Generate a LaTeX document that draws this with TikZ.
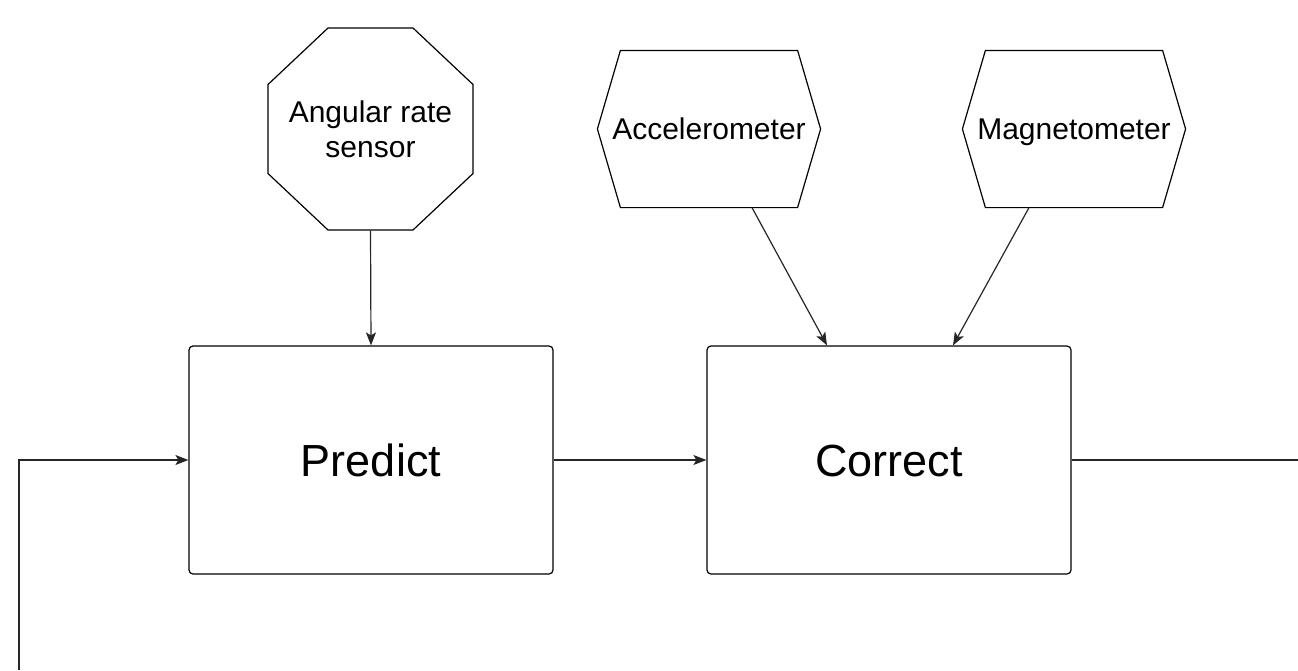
\documentclass[tikz,border=0pt]{standalone}
\usepackage{fontspec}
\setmainfont{Liberation Sans}
\usetikzlibrary{arrows.meta,calc}
\begin{document}
\begin{tikzpicture}[x=1pt,y=-1pt,
  line width=1.2pt,
  conn/.style={draw=black!85,line width=1.2pt},
  arr/.style={conn,-{Stealth[length=13pt,width=10pt,inset=3pt]}},
  octbox/.style={draw=none,minimum width=205pt,minimum height=202pt,inner sep=0pt,
    align=center,font=\fontsize{30}{35}\selectfont},
  hexbox/.style={draw=none,minimum width=222pt,minimum height=156pt,inner sep=0pt,
    text height=21.5pt,text depth=0pt,font=\fontsize{30}{35}\selectfont},
  procbox/.style={draw,rounded corners=4pt,minimum width=364pt,minimum height=228pt,
    inner sep=0pt,text height=32pt,text depth=0pt,font=\fontsize{45}{50}\selectfont}]
\useasboundingbox (0,0) rectangle (1298,670);

\node[octbox] (ang) at (370.5,129) {Angular rate\\sensor};
\draw ($(ang.center)+(-42.5,-101)$) -- ($(ang.center)+(42.5,-101)$)
  -- ($(ang.center)+(102.5,-44.5)$) -- ($(ang.center)+(102.5,44.5)$)
  -- ($(ang.center)+(42.5,101)$) -- ($(ang.center)+(-42.5,101)$)
  -- ($(ang.center)+(-102.5,44.5)$) -- ($(ang.center)+(-102.5,-44.5)$) -- cycle;
\node[hexbox] (acc) at (709,129) {Accelerometer};
\node[hexbox] (mag) at (1074,129) {Magnetometer};
\foreach \n in {acc,mag}{
  \draw ($(\n.north west)+(23,0)$) -- ($(\n.north east)+(-23,0)$) -- (\n.east)
    -- ($(\n.south east)+(-23,0)$) -- ($(\n.south west)+(23,0)$) -- (\n.west) -- cycle;
}
\node[procbox] (pred) at (371,460) {Predict};
\node[procbox] (corr) at (889,460) {Correct};

\coordinate (fbstart) at (19,670);
\coordinate (outend) at (1298,460);

\draw[arr] (ang.south) -- (pred.north);
\draw[arr] ($(acc.south)+(43,0)$) -- ($(corr.north)+(-62,0)$);
\draw[arr] ($(mag.south)+(-45,0)$) -- ($(corr.north)+(64,0)$);
\draw[arr] (pred.east) -- (corr.west);
\draw[conn] (corr.east) -- (outend);
\draw[arr] (fbstart) |- (pred.west);
\end{tikzpicture}
\end{document}
